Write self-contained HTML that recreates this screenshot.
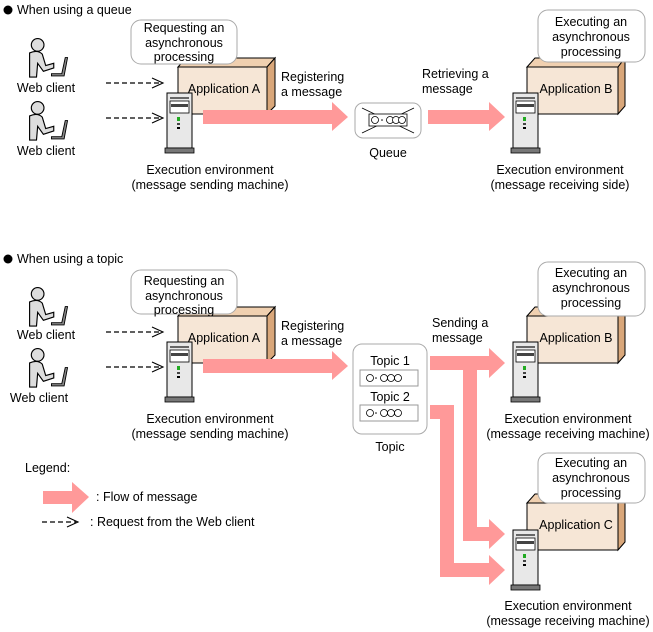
<!DOCTYPE html>
<html><head><meta charset="utf-8"><style>
html,body{margin:0;padding:0;background:#fff}
svg{display:block}
text{font-family:"Liberation Sans",Arial,sans-serif;font-size:12.5px;fill:#000}
</style></head><body>
<svg width="653" height="632" viewBox="0 0 653 632" xmlns="http://www.w3.org/2000/svg">
<defs>
<g id="person" transform="scale(1.15)">
<circle cx="11" cy="6" r="5.5" fill="#ddd" stroke="#000" stroke-width="1"/>
<path d="M4 13 Q11 10 15 14 L18 24 L25 22 L25 26 L16 29 L11 22 L10 34 L4 34 Z" fill="#ddd" stroke="#000" stroke-width="1"/>
<path d="M23 31 L32 31 L35 17 L37 17 L34 33 L23 33 Z" fill="#888" stroke="#000" stroke-width="0.8"/>
</g>
<g id="server">
<rect x="0" y="0" width="25" height="55" fill="#e8e8e8" stroke="#000" stroke-width="1"/>
<rect x="3" y="4" width="19" height="2" fill="#666"/>
<rect x="3" y="8" width="19" height="12" fill="#fff" stroke="#000" stroke-width="0.8"/>
<rect x="4" y="11" width="17" height="3" fill="#444"/>
<rect x="10" y="24" width="3" height="4" fill="#2a2"/>
<rect x="10" y="30" width="3" height="2" fill="#444"/>
<rect x="10" y="34" width="3" height="2" fill="#000"/>
<rect x="-2" y="55" width="29" height="5" fill="#777" stroke="#000" stroke-width="0.8"/>
</g>
<g id="dash">
<line x1="0" y1="0" x2="55" y2="0" stroke="#000" stroke-width="1.2" stroke-dasharray="5,3"/>
<polyline points="46,-5 57,0 46,5" fill="none" stroke="#000" stroke-width="1.1"/>
</g>
<g id="msgline">
<rect x="0" y="0" width="58" height="16" fill="#fff" stroke="#999"/>
<circle cx="10" cy="8" r="3.5" fill="none" stroke="#000" stroke-width="0.8"/>
<circle cx="16" cy="8" r="0.8" fill="#000"/>
<circle cx="24" cy="8" r="3.5" fill="none" stroke="#000" stroke-width="0.8"/>
<circle cx="31" cy="8" r="3.5" fill="none" stroke="#000" stroke-width="0.8"/>
<circle cx="38" cy="8" r="3.5" fill="none" stroke="#000" stroke-width="0.8"/>
</g>
</defs>

<circle cx="8" cy="10" r="4.5" fill="#000"/>
<text x="17" y="14">When using a queue</text>

<use href="#person" x="25" y="38"/>
<text x="46" y="92" text-anchor="middle">Web client</text>
<use href="#person" x="25" y="101"/>
<text x="46" y="155" text-anchor="middle">Web client</text>
<use href="#dash" x="106" y="83"/>
<use href="#dash" x="106" y="118"/>

<polygon points="178,67 186,58 275,58 267,67" fill="#f0d0b0" stroke="#000"/>
<polygon points="267,67 275,58 275,106 267,114" fill="#d9a77a" stroke="#000"/>
<rect x="178" y="67" width="89" height="47" fill="#f6e6d6" stroke="#000"/>
<text x="224" y="93" text-anchor="middle">Application A</text>
<rect x="131" y="20" width="106" height="44" rx="10" fill="#fff" stroke="#aaa"/>
<text x="184" y="32" text-anchor="middle">Requesting an</text>
<text x="184" y="47" text-anchor="middle">asynchronous</text>
<text x="184" y="61" text-anchor="middle">processing</text>
<use href="#server" x="167" y="93"/>
<text x="210" y="174" text-anchor="middle">Execution environment</text>
<text x="210" y="189" text-anchor="middle">(message sending machine)</text>

<polygon points="203,110 332,110 332,102 348,117 332,131 332,124 203,124" fill="#f99"/>
<text x="281" y="81">Registering</text>
<text x="281" y="96">a message</text>

<rect x="355" y="103" width="66" height="35" rx="8" fill="#fff" stroke="#aaa"/>
<line x1="362" y1="108" x2="414" y2="133" stroke="#000" stroke-width="0.8"/>
<line x1="414" y1="108" x2="362" y2="133" stroke="#000" stroke-width="0.8"/>
<rect x="369" y="114" width="38" height="12" fill="#fff" stroke="#000" stroke-width="0.8"/>
<circle cx="375" cy="120" r="3.5" fill="#fff" stroke="#000" stroke-width="0.8"/>
<circle cx="382" cy="120" r="0.8"/>
<circle cx="390" cy="120" r="3.5" fill="#fff" stroke="#000" stroke-width="0.8"/>
<circle cx="396" cy="120" r="3.5" fill="#fff" stroke="#000" stroke-width="0.8"/>
<circle cx="402" cy="120" r="3.5" fill="#fff" stroke="#000" stroke-width="0.8"/>
<text x="388" y="157" text-anchor="middle">Queue</text>

<polygon points="428,110 489,110 489,102 505,117 489,131 489,124 428,124" fill="#f99"/>
<text x="422" y="78">Retrieving a</text>
<text x="422" y="93">message</text>

<polygon points="527,67 535,58 625,58 618,67" fill="#f0d0b0" stroke="#000"/>
<polygon points="618,67 625,58 625,106 618,114" fill="#d9a77a" stroke="#000"/>
<rect x="527" y="67" width="91" height="47" fill="#f6e6d6" stroke="#000"/>
<text x="576" y="93" text-anchor="middle">Application B</text>
<rect x="538" y="10" width="107" height="52" rx="10" fill="#fff" stroke="#aaa"/>
<text x="591" y="26" text-anchor="middle">Executing an</text>
<text x="591" y="41" text-anchor="middle">asynchronous</text>
<text x="591" y="56" text-anchor="middle">processing</text>
<use href="#server" x="513" y="93"/>
<text x="560" y="174" text-anchor="middle">Execution environment</text>
<text x="560" y="189" text-anchor="middle">(message receiving side)</text>

<circle cx="8" cy="259" r="4.5" fill="#000"/>
<text x="17" y="263">When using a topic</text>

<use href="#person" x="25" y="287"/>
<text x="46" y="339" text-anchor="middle">Web client</text>
<use href="#person" x="25" y="348"/>
<text x="39" y="402" text-anchor="middle">Web client</text>
<use href="#dash" x="106" y="332"/>
<use href="#dash" x="106" y="367"/>

<polygon points="178,316 186,307 275,307 267,316" fill="#f0d0b0" stroke="#000"/>
<polygon points="267,316 275,307 275,355 267,363" fill="#d9a77a" stroke="#000"/>
<rect x="178" y="316" width="89" height="47" fill="#f6e6d6" stroke="#000"/>
<text x="224" y="342" text-anchor="middle">Application A</text>
<rect x="131" y="270" width="106" height="44" rx="10" fill="#fff" stroke="#aaa"/>
<text x="184" y="285" text-anchor="middle">Requesting an</text>
<text x="184" y="300" text-anchor="middle">asynchronous</text>
<text x="184" y="314" text-anchor="middle">processing</text>
<use href="#server" x="167" y="342"/>
<text x="210" y="423" text-anchor="middle">Execution environment</text>
<text x="210" y="438" text-anchor="middle">(message sending machine)</text>

<polygon points="203,359 332,359 332,351 348,366 332,380 332,373 203,373" fill="#f99"/>
<text x="281" y="330">Registering</text>
<text x="281" y="345">a message</text>

<rect x="353" y="344" width="74" height="90" rx="9" fill="#fff" stroke="#aaa"/>
<text x="390" y="365" text-anchor="middle">Topic 1</text>
<use href="#msgline" x="360" y="370"/>
<text x="390" y="401" text-anchor="middle">Topic 2</text>
<use href="#msgline" x="360" y="405"/>
<text x="390" y="451" text-anchor="middle">Topic</text>

<text x="432" y="327">Sending a</text>
<text x="432" y="342">message</text>

<polygon points="430,356 489,356 489,348 505,363 489,378 489,370 430,370" fill="#f99"/>
<polygon points="463,370 477,370 477,527 489,527 489,519 505,534 489,549 489,541 463,541" fill="#f99"/>
<polygon points="430,405 454,405 454,563 489,563 489,555 505,570 489,585 489,577 440,577 440,419 430,419" fill="#f99"/>

<polygon points="527,316 535,307 625,307 618,316" fill="#f0d0b0" stroke="#000"/>
<polygon points="618,316 625,307 625,355 618,363" fill="#d9a77a" stroke="#000"/>
<rect x="527" y="316" width="91" height="47" fill="#f6e6d6" stroke="#000"/>
<text x="576" y="342" text-anchor="middle">Application B</text>
<rect x="538" y="262" width="107" height="54" rx="10" fill="#fff" stroke="#aaa"/>
<text x="591" y="277" text-anchor="middle">Executing an</text>
<text x="591" y="292" text-anchor="middle">asynchronous</text>
<text x="591" y="307" text-anchor="middle">processing</text>
<use href="#server" x="513" y="342"/>
<text x="568" y="423" text-anchor="middle">Execution environment</text>
<text x="568" y="438" text-anchor="middle">(message receiving machine)</text>

<polygon points="527,503 535,494 625,494 618,503" fill="#f0d0b0" stroke="#000"/>
<polygon points="618,503 625,494 625,542 618,550" fill="#d9a77a" stroke="#000"/>
<rect x="527" y="503" width="91" height="47" fill="#f6e6d6" stroke="#000"/>
<text x="576" y="529" text-anchor="middle">Application C</text>
<rect x="538" y="453" width="107" height="50" rx="10" fill="#fff" stroke="#aaa"/>
<text x="591" y="467" text-anchor="middle">Executing an</text>
<text x="591" y="482" text-anchor="middle">asynchronous</text>
<text x="591" y="497" text-anchor="middle">processing</text>
<use href="#server" x="513" y="530"/>
<text x="568" y="610" text-anchor="middle">Execution environment</text>
<text x="568" y="625" text-anchor="middle">(message receiving machine)</text>

<text x="25" y="472">Legend:</text>
<polygon points="43,491 72,491 72,482 89,497 72,513 72,504 43,504" fill="#f99"/>
<text x="96" y="501">: Flow of message</text>
<line x1="42" y1="522" x2="76" y2="522" stroke="#000" stroke-width="1.2" stroke-dasharray="5,3"/>
<polyline points="67,517 78,522 67,527" fill="none" stroke="#000" stroke-width="1.1"/>
<text x="90" y="526">: Request from the Web client</text>
</svg>
</body></html>
